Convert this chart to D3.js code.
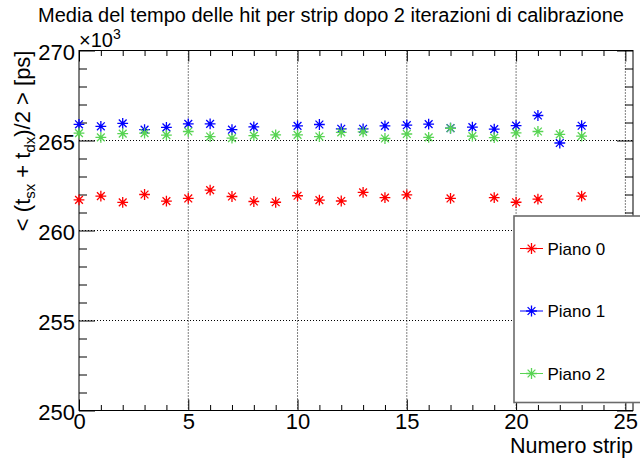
<!DOCTYPE html>
<html>
<head>
<meta charset="utf-8">
<script src="https://cdn.jsdelivr.net/npm/d3@7"></script>
<style>
  html, body { margin: 0; padding: 0; background: #fff; }
  svg { display: block; font-family: "Liberation Sans", Arial, Helvetica, sans-serif; }
</style>
</head>
<body>
<svg id="chart" width="640" height="464"></svg>
<script>
// Strip numbers and mean hit time (ps) per plane; null = strip without data
const strips = [0, 1, 2, 3, 4, 5, 6, 7, 8, 9, 10, 11, 12, 13, 14, 15, 16, 17, 18, 19, 20, 21, 22, 23];
const piano0 = [261700, 261910, 261560, 262000, 261630, 261780, 262240, 261890, 261610, 261570, 261930, 261690,
                261640, 262120, 261830, 261980, null, 261780, null, 261830, 261570, 261740, null, 261910];
const piano1 = [265900, 265790, 265950, 265600, 265730, 265920, 265920, 265600, 265760, null, 265810, 265890,
                265650, 265650, 265810, 265850, 265910, 265690, 265740, 265630, 265830, 266390, 264860, 265820];
const piano2 = [265410, 265170, 265380, 265410, 265300, 265500, 265220, 265130, 265270, 265310, 265310, 265220,
                265450, 265480, 265110, 265360, 265170, 265680, 265240, 265160, 265420, 265500, 265340, 265240];

const seriesNames = ["Piano 0", "Piano 1", "Piano 2"];
const seriesColors = ["#ff0000", "#0000ff", "#59d454"];
const xMajorTicks = [0, 5, 10, 15, 20, 25];
const yMajorTicks = [250000, 255000, 260000, 265000, 270000];

const title = "Media del tempo delle hit per strip dopo 2 iterazioni di calibrazione";
const xTitle = "Numero strip";

const svg = d3.select("#chart");
const frame = { left: 79, right: 633, top: 50.5, bottom: 410.5 };

const x = d3.scaleLinear().domain([0, 25.35]).range([frame.left, frame.right]);
const y = d3.scaleLinear().domain([250000, 270000]).range([frame.bottom, frame.top]);

const xMinor = d3.range(0, 26).filter(v => !xMajorTicks.includes(v));
const yMinor = d3.range(250000, 270001, 1000).filter(v => !yMajorTicks.includes(v));

// grid (dotted) at major ticks
const grid = svg.append("g").attr("stroke", "#000").attr("stroke-width", 1).attr("stroke-dasharray", "1 2");
xMajorTicks.filter(v => v > 0).forEach(v => {
  grid.append("line").attr("x1", x(v)).attr("x2", x(v)).attr("y1", frame.top).attr("y2", frame.bottom);
});
yMajorTicks.filter(v => v > 250000 && v < 270000).forEach(v => {
  grid.append("line").attr("x1", frame.left).attr("x2", frame.right).attr("y1", y(v)).attr("y2", y(v));
});

// frame box
svg.append("rect")
  .attr("x", frame.left).attr("y", frame.top)
  .attr("width", frame.right - frame.left).attr("height", frame.bottom - frame.top)
  .attr("fill", "none").attr("stroke", "#000").attr("stroke-width", 1);

function styleAxis(g) {
  g.select(".domain").remove();
  g.selectAll(".tick line").attr("stroke", "#000").attr("stroke-width", 1);
  g.selectAll("text").attr("fill", "#000").attr("font-family", "Liberation Sans, Arial, sans-serif");
}

// bottom axis: ticks pointing into the frame
svg.append("g").attr("transform", `translate(0,${frame.bottom})`)
  .call(d3.axisBottom(x).tickValues(xMajorTicks).tickSize(-11).tickPadding(14).tickFormat(d3.format("d")))
  .call(styleAxis)
  .call(g => g.selectAll("text").attr("font-size", 22).attr("dy", "0.2em"));
svg.append("g").attr("transform", `translate(0,${frame.bottom})`)
  .call(d3.axisBottom(x).tickValues(xMinor).tickSize(-5.5).tickFormat(""))
  .call(styleAxis);
// top axis ticks
svg.append("g").attr("transform", `translate(0,${frame.top})`)
  .call(d3.axisTop(x).tickValues(xMajorTicks).tickSize(-11).tickFormat(""))
  .call(styleAxis);
svg.append("g").attr("transform", `translate(0,${frame.top})`)
  .call(d3.axisTop(x).tickValues(xMinor).tickSize(-5.5).tickFormat(""))
  .call(styleAxis);

// left axis
svg.append("g").attr("transform", `translate(${frame.left},0)`)
  .call(d3.axisLeft(y).tickValues(yMajorTicks).tickSize(-16).tickPadding(4).tickFormat(v => d3.format("d")(v / 1000)))
  .call(styleAxis)
  .call(g => g.selectAll("text").attr("font-size", 22).attr("dy", "0.4em"));
svg.append("g").attr("transform", `translate(${frame.left},0)`)
  .call(d3.axisLeft(y).tickValues(yMinor).tickSize(-8).tickFormat(""))
  .call(styleAxis);
// right axis ticks
svg.append("g").attr("transform", `translate(${frame.right},0)`)
  .call(d3.axisRight(y).tickValues(yMajorTicks).tickSize(-16).tickFormat(""))
  .call(styleAxis);
svg.append("g").attr("transform", `translate(${frame.right},0)`)
  .call(d3.axisRight(y).tickValues(yMinor).tickSize(-8).tickFormat(""))
  .call(styleAxis);

// exponent label of the y axis
const expo = svg.append("text").attr("x", frame.left).attr("y", 47)
  .attr("font-size", 20).attr("fill", "#000");
expo.append("tspan").text("\u00d710");
expo.append("tspan").attr("font-size", 14).attr("dy", -8).text("3");

// asterisk marker path (ROOT-like star: + and x)
function starPath(s) {
  const d = s * 0.72;
  return `M${-s},0L${s},0M0,${-s}L0,${s}M${-d},${-d}L${d},${d}M${-d},${d}L${d},${-d}`;
}
const marker = starPath(5.4);

const allSeries = [piano0, piano1, piano2];
allSeries.forEach((vals, i) => {
  const pts = strips.map((s, k) => ({ s, v: vals[k] })).filter(p => p.v != null);
  const g = svg.append("g");
  g.selectAll("path").data(pts).join("path")
    .attr("d", marker)
    .attr("transform", p => `translate(${x(p.s)},${y(p.v)})`)
    .attr("fill", "none")
    .attr("stroke", seriesColors[i])
    .attr("stroke-width", 1.3);
  g.selectAll("circle").data(pts).join("circle")
    .attr("cx", p => x(p.s)).attr("cy", p => y(p.v)).attr("r", 1.6)
    .attr("fill", seriesColors[i]);
});

// legend
const leg = { left: 514, top: 216, bottom: 402.5 };
svg.append("rect")
  .attr("x", leg.left).attr("y", leg.top)
  .attr("width", 700 - leg.left).attr("height", leg.bottom - leg.top)
  .attr("fill", "#fff").attr("stroke", "#6b6b6b").attr("stroke-width", 1.6);
const legRowY = [248.5, 311, 373.5];
seriesNames.forEach((name, i) => {
  const gy = legRowY[i];
  const gl = svg.append("g");
  gl.append("line").attr("x1", 520).attr("x2", 543).attr("y1", gy).attr("y2", gy)
    .attr("stroke", seriesColors[i]).attr("stroke-width", 1);
  gl.append("path").attr("d", marker).attr("transform", `translate(531.5,${gy})`)
    .attr("fill", "none").attr("stroke", seriesColors[i]).attr("stroke-width", 1.3);
  gl.append("circle").attr("cx", 531.5).attr("cy", gy).attr("r", 1.6).attr("fill", seriesColors[i]);
  gl.append("text").attr("x", 547.5).attr("y", gy + 6).attr("font-size", 17).attr("fill", "#000").text(name);
});

// titles
svg.append("text").attr("x", 331).attr("y", 22).attr("text-anchor", "middle")
  .attr("font-size", 20).attr("fill", "#000").text(title);

svg.append("text").attr("x", frame.right).attr("y", 453).attr("text-anchor", "end")
  .attr("font-size", 21.5).attr("fill", "#000").text(xTitle);

const yt = svg.append("text")
  .attr("transform", `translate(30,${frame.top}) rotate(-90)`)
  .attr("text-anchor", "end").attr("font-size", 22).attr("fill", "#000");
yt.append("tspan").text("< (t");
yt.append("tspan").attr("font-size", 15).attr("dy", 5).text("sx");
yt.append("tspan").attr("dy", -5).text(" + t");
yt.append("tspan").attr("font-size", 15).attr("dy", 5).text("dx");
yt.append("tspan").attr("dy", -5).text(")/2 > [ps]");
</script>
</body>
</html>
